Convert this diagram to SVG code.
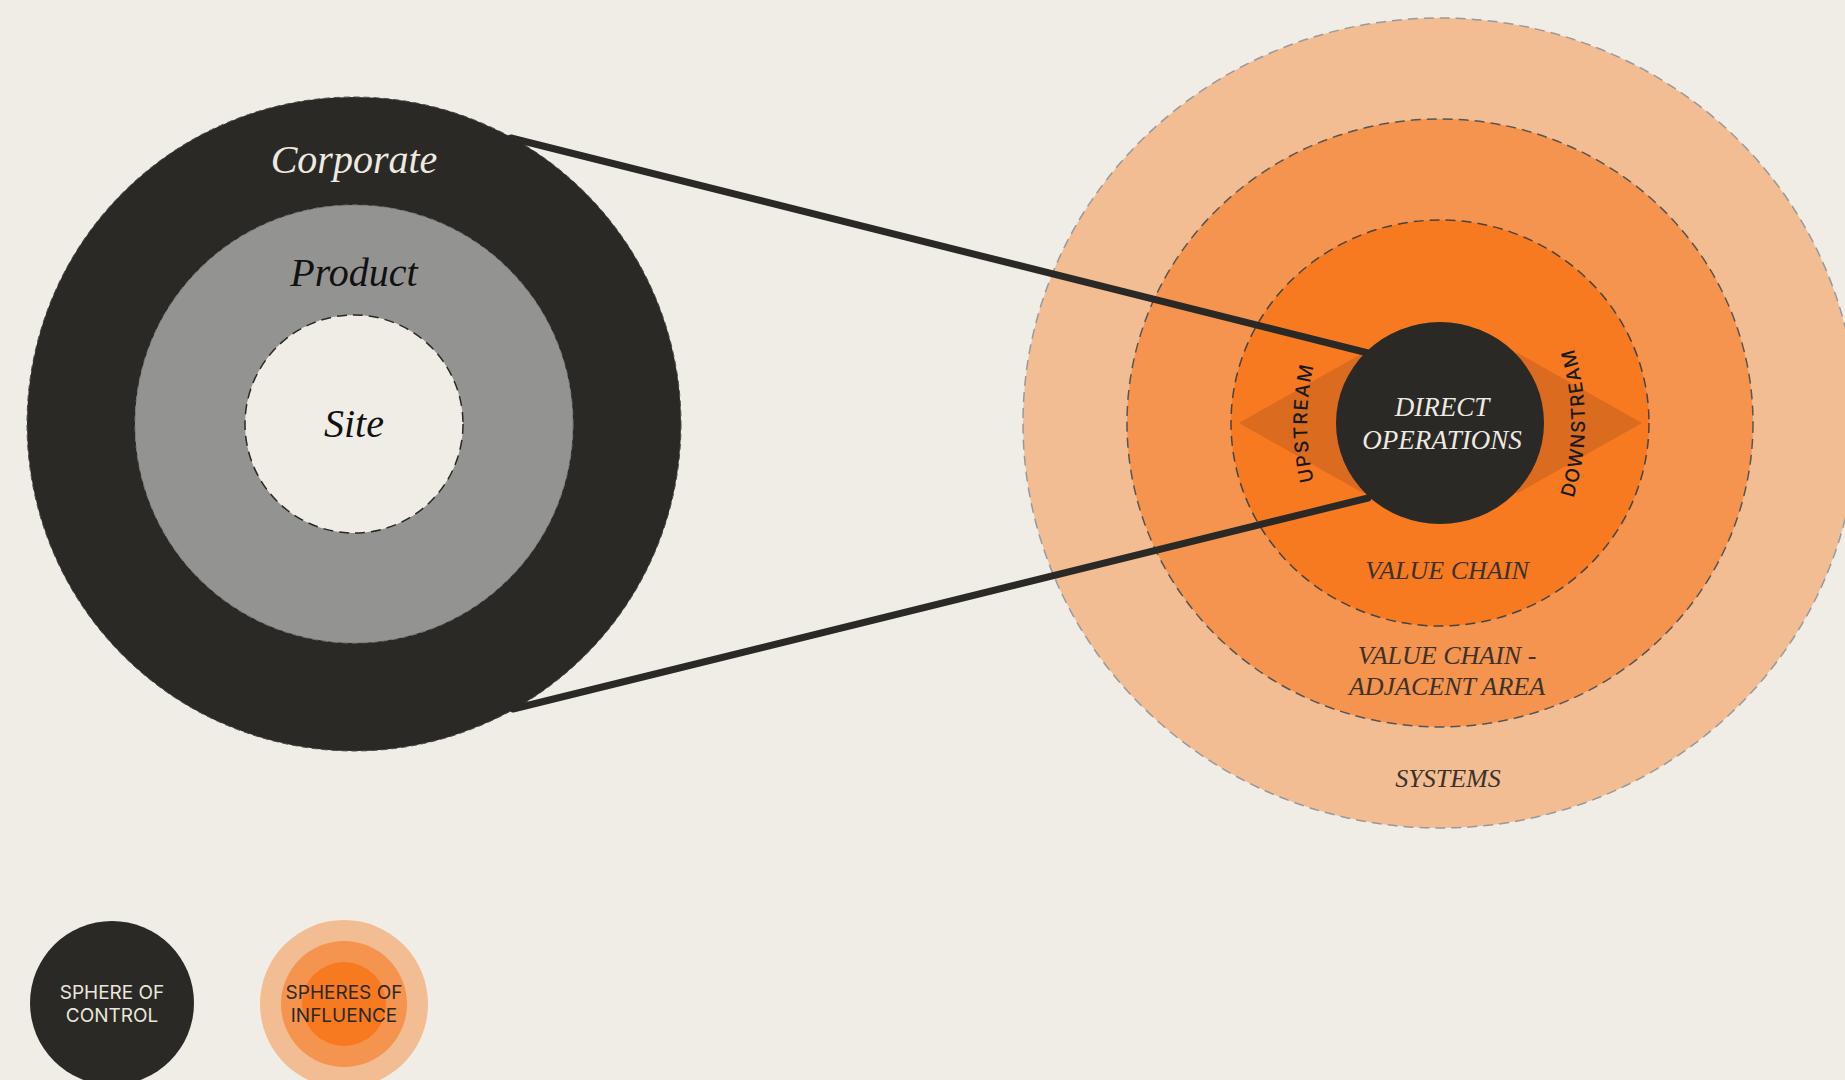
<svg xmlns="http://www.w3.org/2000/svg" width="1845" height="1080" viewBox="0 0 1845 1080">
<style>
.serif{font-family:"Liberation Serif","Times New Roman",serif;font-style:italic;text-anchor:middle}
.sans{font-family:Inter,"Liberation Sans",sans-serif;text-anchor:middle}
.dash{stroke-width:1.5;stroke-dasharray:10 6}
.dark{fill:#2A2925}
</style>
<defs>
<path id="upArc" d="M1365.5 583.7 A250 250 0 0 1 1365.5 262.3"/>
<path id="downArc" d="M1526.5 583.7 A250 250 0 0 0 1526.5 262.3"/>
</defs>
<rect width="1845" height="1080" fill="#F0EDE6"/>

<g id="control-sphere">
<circle cx="354" cy="424" r="327" class="dark" stroke="#4a4945" stroke-width="1" stroke-dasharray="6 4"/>
<circle cx="354" cy="424" r="219" fill="#939391" stroke="#7d7d7b" stroke-width="1" stroke-dasharray="6 4"/>
<circle cx="354" cy="424" r="109" fill="#F0EDE6" stroke="#2A2925" class="dash" stroke-dasharray="6 4"/>
<text class="serif" x="354" y="173" font-size="40" fill="#EEEAE2">Corporate</text>
<text class="serif" x="354" y="286" font-size="40" fill="#111">Product</text>
<text class="serif" x="354" y="437" font-size="40" fill="#111">Site</text>
</g>

<g id="influence-spheres">
<ellipse cx="1440" cy="423" rx="417" ry="405" fill="#F3BD94" stroke="#999" class="dash"/>
<ellipse cx="1440" cy="423" rx="313" ry="304" fill="#F5944E" stroke="#555" class="dash"/>
<ellipse cx="1440" cy="423" rx="209" ry="203" fill="#F77A21" stroke="#444" class="dash"/>
<polygon points="1239,423 1363,353 1518,353 1642,423 1518,493 1363,493" fill="#DA6B1F"/>
<text class="serif" x="1447" y="579" font-size="26" fill="#3A332C">VALUE CHAIN</text>
<text class="serif" x="1447" y="664" font-size="26" fill="#3A332C">VALUE CHAIN -</text>
<text class="serif" x="1447" y="695" font-size="26" fill="#3A332C">ADJACENT AREA</text>
<text class="serif" x="1448" y="787" font-size="26" fill="#3A332C">SYSTEMS</text>
<text class="sans" font-size="19" font-weight="500" letter-spacing="1.5" fill="#1a1a18"><textPath href="#upArc" startOffset="50%">UPSTREAM</textPath></text>
<text class="sans" font-size="19" font-weight="500" letter-spacing="1.2" fill="#1a1a18"><textPath href="#downArc" startOffset="50%">DOWNSTREAM</textPath></text>
</g>

<g id="connectors" stroke="#2A2925" stroke-width="7" stroke-linecap="round">
<line x1="511" y1="138" x2="1368" y2="353"/>
<line x1="513" y1="709" x2="1368" y2="498"/>
</g>

<g id="direct-operations">
<ellipse cx="1440" cy="423" rx="104" ry="101" class="dark"/>
<text class="serif" x="1442" y="416" font-size="27" fill="#EEEAE2">DIRECT</text>
<text class="serif" x="1442" y="449" font-size="27" fill="#EEEAE2">OPERATIONS</text>
</g>

<g id="legend-control">
<circle cx="112" cy="1003" r="82" class="dark"/>
<text class="sans" x="112" y="999" font-size="19" fill="#EAE6DE">SPHERE OF</text>
<text class="sans" x="112" y="1022" font-size="19" fill="#EAE6DE">CONTROL</text>
</g>

<g id="legend-influence">
<circle cx="344" cy="1004" r="84" fill="#F3BD94"/>
<circle cx="344" cy="1004" r="63" fill="#F5944E"/>
<circle cx="344" cy="1004" r="42" fill="#F77A21"/>
<text class="sans" x="344" y="999" font-size="19" fill="#2A2925">SPHERES OF</text>
<text class="sans" x="344" y="1022" font-size="19" fill="#2A2925">INFLUENCE</text>
</g>
</svg>
